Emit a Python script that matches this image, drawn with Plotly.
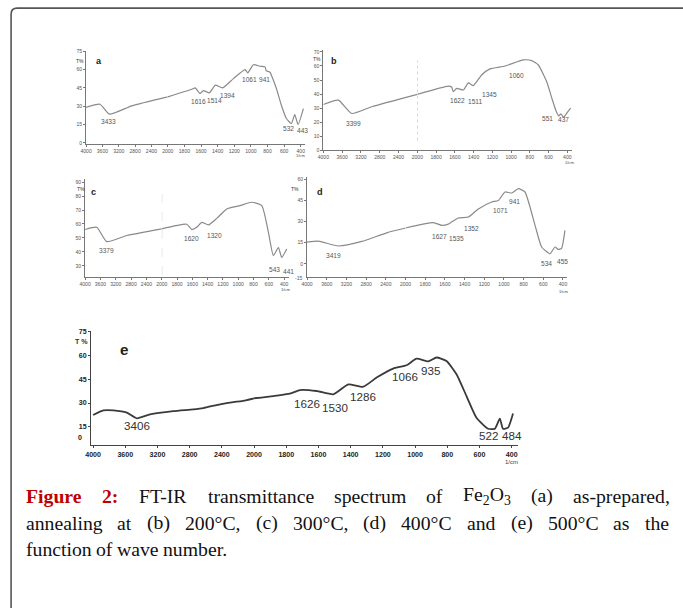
import re
import plotly.graph_objects as go

# Page geometry: the page body keeps a margin and the photographed viewport is slightly
# larger than the final picture, so reference pixels (X, Y) are mapped to page pixels by
# the ratios KX / KY and then shifted.
W, H = 683, 608
MARGIN = 8
KX = 683 / 691
KY = 608 / 616
DY = 3
FS = 1 / KX  # font scale so that text keeps its size in the final picture

# ---------------- data (wavenumber in 1/cm, transmittance T%) ----------------
wn_a = [4000, 3660, 3430, 2880, 2000, 1710, 1670, 1612, 1570, 1500, 1427, 1340, 1210, 1070, 1037, 970, 890, 830, 815, 773, 693, 633, 573, 512, 472, 432, 368]
t_a = [29, 31.6, 23.5, 30.3, 37.6, 43.9, 45, 40.4, 42.8, 40.9, 47.2, 45, 52.6, 60, 57.3, 64, 62.7, 62.2, 59, 58, 44.5, 30.8, 19.9, 15.8, 23.2, 15, 28]

wn_b = [4000, 3680, 3397, 2970, 2000, 1669, 1634, 1616, 1580, 1509, 1456, 1403, 1314, 1225, 1065, 869, 780, 709, 620, 560, 520, 490, 470, 440, 400, 365]
t_b = [32.6, 35.7, 26.2, 31, 39.8, 45.7, 45, 41.7, 44, 42.9, 48, 46, 53.6, 57.9, 60, 64.3, 63.8, 60.7, 48.8, 36, 28, 24.5, 26, 23.5, 27, 30]

wn_c = [4000, 3696, 3435, 2913, 2000, 1673, 1608, 1542, 1477, 1390, 1281, 1150, 976, 823, 692, 605, 540, 474, 431, 365]
t_c = [56, 57.6, 47.3, 51.7, 56.5, 59.8, 56, 57.6, 61.2, 59.3, 64, 70.8, 73.2, 75.6, 73.2, 54, 37.3, 43, 36, 42]

wn_d = [4000, 3771, 3364, 2889, 2382, 2000, 1718, 1632, 1565, 1464, 1362, 1260, 1124, 1057, 989, 921, 854, 786, 684, 617, 532, 481, 448, 414, 380]
t_d = [15.4, 16.1, 12.6, 15.9, 22, 25.4, 29.2, 27.3, 28.2, 32.5, 33.2, 39, 43.9, 45, 51, 50.3, 53.4, 51, 27.3, 11.9, 7.1, 11.9, 10.2, 11, 23.7]

wn_e = [4000, 3872, 3748, 3581, 3457, 3292, 3003, 2754, 2630, 2422, 2257, 2153, 2000, 1880, 1777, 1715, 1611, 1508, 1415, 1322, 1239, 1136, 1053, 991, 919, 867, 805, 743, 681, 619, 547, 505, 474, 454, 423, 392]
t_e = [22.4, 25.3, 25.3, 23.9, 20.3, 22.8, 24.9, 26, 26.8, 29.2, 30.6, 31.2, 33, 34.4, 35.9, 38.2, 37.6, 35.5, 41.8, 40.3, 46.1, 51.8, 53.9, 58.1, 56.4, 58.8, 56.6, 48.2, 34.4, 20.7, 13.7, 13.7, 20.1, 13.7, 14.4, 23.4]

peaks_a = ["3433", "1616", "1514", "1394", "1061", "941", "532", "443"]
peaks_b = ["3399", "1622", "1511", "1345", "1060", "551", "437"]
peaks_c = ["3379", "1620", "1320", "543", "441"]
peaks_d = ["3419", "1627", "1535", "1352", "1071", "941", "534", "455"]
peaks_e = ["3406", "1626", "1530", "1286", "1066", "935", "522", "484"]

ticks_left = [4000, 3600, 3200, 2800, 2400]
ticks_right = [2000, 1800, 1600, 1400, 1200, 1000, 800, 600, 400]
yticks_a = [0, 15, 30, 45, 60, 75]
yticks_b = [0, 10, 20, 30, 40, 50, 60, 70]
yticks_c = [20, 30, 40, 50, 60, 70, 80, 90]
yticks_d = [0, 15, 30, 45, 60]
yticks_e = [15, 30, 45, 60, 75]

RED = "#c00000"
caption_words = [
    [f"<span style='color:{RED}'><b>Figure</b></span>", f"<span style='color:{RED}'><b>2:</b></span>",
     "FT-IR", "transmittance", "spectrum", "of", "Fe<sub>2</sub>O<sub>3</sub>", "(a)", "as-prepared,"],
    ["annealing", "at", "(b)", "200°C,", "(c)", "300°C,", "(d)", "400°C", "and", "(e)", "500°C", "as", "the"],
    ["function", "of", "wave", "number."],
]

# ---------------- layout helpers ----------------
def ppx(xp):            # page pixel -> paper fraction
    return (xp - MARGIN) / W

def ppy(yp):
    return 1 - (yp - MARGIN) / H

def px(x):              # reference pixel -> paper fraction
    return ppx(x / KX)

def py(y):
    return ppy((y + DY) / KY)

TW = {' ': 250, 'a': 444, 'b': 500, 'c': 444, 'd': 500, 'e': 444, 'f': 333, 'g': 500, 'h': 500,
      'i': 278, 'k': 500, 'l': 278, 'm': 778, 'n': 500, 'o': 500, 'p': 500, 'r': 333, 's': 389,
      't': 278, 'u': 500, 'v': 500, 'w': 722, 'F': 556, 'T': 611, 'I': 333, 'R': 667, 'O': 722,
      'C': 667, '-': 333, '(': 333, ')': 333, ',': 250, '.': 250, ':': 278, '°': 400}
TWB = {'F': 611, 'i': 278, 'g': 500, 'u': 556, 'r': 444, 'e': 444, ':': 333}

def text_width(markup, size):
    w = 0.0
    bold = False
    sub = False
    for tok in re.split(r"(<[^>]+>)", markup):
        if tok.startswith("<"):
            t = tok.lower()
            if t == "<b>":
                bold = True
            elif t == "</b>":
                bold = False
            elif t == "<sub>":
                sub = True
            elif t == "</sub>":
                sub = False
            continue
        for ch in tok:
            base = 500 if ch.isdigit() else (TWB.get(ch, TW.get(ch, 500)) if bold else TW.get(ch, 500))
            w += base * (0.7 if sub else 1.0)
    return w * size / 1000.0

panels = [
    dict(name="a", wn=wn_a, t=t_a, peaks=peaks_a, x0=86, xm=167.7, x1=305, yt=53, yb=145,
         lr=4000, re=348, yr=[-0.6, 75], yt_vals=yticks_a,
         ppos=[(108, 123), (198.5, 103), (214.5, 102), (227, 97.5), (249.5, 81.5), (264, 81.5), (288.5, 130), (302.5, 131.5)],
         lab=(99, 63), tpct=(80, 63), cm=(300.7, 157)),
    dict(name="b", wn=wn_b, t=t_b, peaks=peaks_b, x0=323.3, xm=417.3, x1=572, yt=51.7, yb=151.7,
         lr=4000, re=350, yr=[0, 71.4], yt_vals=yticks_b,
         ppos=[(353, 125), (457.5, 102.5), (475, 103), (489, 96.5), (516.5, 77.5), (547, 120), (563, 121)],
         lab=(334, 63), tpct=(316.5, 60.5), cm=(569, 164)),
    dict(name="c", wn=wn_c, t=t_c, peaks=peaks_c, x0=85, xm=161.7, x1=289, yt=180.5, yb=278.3,
         lr=4000, re=335, yr=[21.7, 92.2], yt_vals=yticks_c,
         ppos=[(106.5, 251.5), (191, 240), (214, 236.5), (274, 270.5), (288, 272.5)],
         lab=(93, 193), tpct=(80.5, 190.5), cm=(285, 290)),
    dict(name="d", wn=wn_d, t=t_d, peaks=peaks_d, x0=307, xm=405.5, x1=567, yt=178.3, yb=278,
         lr=4000, re=359, yr=[-9.4, 61.7], yt_vals=yticks_d,
         ppos=[(333, 256.5), (439, 238), (456.5, 240), (471.5, 230), (500, 211.5), (514, 203), (546.5, 265), (562.5, 262.5)],
         lab=(320, 193), tpct=(295, 190), cm=(563, 292)),
    dict(name="e", wn=wn_e, t=t_e, peaks=peaks_e, x0=91, xm=254, x1=518, yt=332, yb=446,
         lr=4025, re=361, yr=[3.1, 75.5], yt_vals=yticks_e,
         ppos=[(136.5, 426.5), (307, 404), (335, 408), (363, 397.5), (405, 377), (430, 371), (488, 436), (512, 436)],
         lab=(124, 350), tpct=(81.5, 343), cm=(511.7, 462)),
]

fig = go.Figure()
annotations = []
shapes = []

LBL = "Arial, Liberation Sans, sans-serif"

for i, p in enumerate(panels):
    big = p["name"] == "e"
    xl = 2 * i + 1
    xr = 2 * i + 2
    yi = i + 1
    xl_name = "x" if xl == 1 else f"x{xl}"
    xr_name = f"x{xr}"
    y_name = "y" if yi == 1 else f"y{yi}"
    line_col = "#3a3a3a" if big else "#8a8a8a"
    line_w = 1.8 if big else 1.2
    left_w = [w for w in p["wn"] if w >= 2000]
    left_t = [t for w, t in zip(p["wn"], p["t"]) if w >= 2000]
    right_w = [w for w in p["wn"] if w <= 2000]
    right_t = [t for w, t in zip(p["wn"], p["t"]) if w <= 2000]
    for xs, ys, xa in [(left_w, left_t, xl_name), (right_w, right_t, xr_name)]:
        fig.add_trace(go.Scatter(x=xs, y=ys, mode="lines", xaxis=xa, yaxis=y_name,
                                 line=dict(color=line_col, width=line_w, shape="spline", smoothing=0.5),
                                 showlegend=False, hoverinfo="skip"))

    tick_font = dict(family="Arial", size=(7 if big else 5) * FS, color="#222" if big else "#555",
                     weight="bold" if big else "normal")
    axis_col = "#444" if big else "#777"
    common_x = dict(showgrid=False, zeroline=False, showline=True, linecolor=axis_col, linewidth=1,
                    ticks="outside", ticklen=2, tickcolor=axis_col, tickfont=tick_font, anchor=y_name)
    lkey = "xaxis" if xl == 1 else f"xaxis{xl}"
    rkey = f"xaxis{xr}"
    ykey = "yaxis" if yi == 1 else f"yaxis{yi}"
    fig.update_layout(**{
        lkey: dict(domain=[px(p["x0"]), px(p["xm"])], range=[p["lr"], 2000], tickmode="array",
                   tickvals=ticks_left, **common_x),
        rkey: dict(domain=[px(p["xm"]), px(p["x1"])], range=[2000, p["re"]], tickmode="array",
                   tickvals=ticks_right, **common_x),
        ykey: dict(domain=[py(p["yb"]), py(p["yt"])], range=p["yr"], anchor=xl_name,
                   tickmode="array", tickvals=p["yt_vals"], showgrid=False, zeroline=False,
                   showline=True, linecolor=axis_col, linewidth=1, ticks="outside", ticklen=2,
                   tickcolor=axis_col, tickfont=tick_font),
    })

    for txt, (lx, ly) in zip(p["peaks"], p["ppos"]):
        annotations.append(dict(x=px(lx), y=py(ly), xref="paper", yref="paper", text=txt,
                                showarrow=False, xanchor="center", yanchor="middle",
                                font=dict(family=LBL, size=(11.5 if big else 6.5) * FS,
                                          color="#333" if big else "#555")))
    annotations.append(dict(x=px(p["lab"][0]), y=py(p["lab"][1]), xref="paper", yref="paper",
                            text=f"<b>{p['name']}</b>", showarrow=False, xanchor="center", yanchor="middle",
                            font=dict(family="Arial", size=(15 if big else 9) * FS, color="#222")))
    annotations.append(dict(x=px(p["tpct"][0]), y=py(p["tpct"][1]), xref="paper", yref="paper",
                            text="<b>T %</b>" if big else "T%", showarrow=False, xanchor="center",
                            yanchor="middle", font=dict(family="Arial", size=(7 if big else 5) * FS, color="#333")))
    annotations.append(dict(x=px(p["cm"][0]), y=py(p["cm"][1]), xref="paper", yref="paper",
                            text="1/cm", showarrow=False, xanchor="center", yanchor="middle",
                            font=dict(family="Arial", size=(6 if big else 4) * FS, color="#444")))

annotations.append(dict(x=px(84), y=py(439), xref="paper", yref="paper", text="<b>0</b>", showarrow=False,
                        xanchor="right", yanchor="middle", font=dict(family="Arial", size=7 * FS, color="#222")))
annotations.append(dict(x=px(304), y=py(279), xref="paper", yref="paper", text="-15", showarrow=False,
                        xanchor="right", yanchor="middle", font=dict(family="Arial", size=5 * FS, color="#555")))

shapes.append(dict(type="line", xref="x4", yref="paper", x0=2000, x1=2000, y0=py(142), y1=py(62),
                   line=dict(color="#bbbbbb", width=1, dash="dot")))
shapes.append(dict(type="line", xref="x6", yref="paper", x0=2000, x1=2000, y0=py(276), y1=py(186),
                   line=dict(color="#cccccc", width=1, dash="dash")))

shapes.append(dict(type="path", xref="paper", yref="paper",
                   path=f"M {px(11)},{py(640)} L {px(11)},{py(16)} Q {px(11)},{py(10)} {px(17)},{py(10)} L {px(720)},{py(10)}",
                   line=dict(color="#555555", width=1.6)))

# caption: justified lines built word by word (page pixels), last line set naturally
CAP_SIZE = 19.5 * FS
CAP = dict(family="Liberation Serif, Times New Roman, serif", size=CAP_SIZE, color="#111")
cap_y = [496, 523, 549]
LEFT, RIGHT = 25 / KX, 668 / KX
for k, (words, yy) in enumerate(zip(caption_words, cap_y)):
    widths = [text_width(w, CAP_SIZE) for w in words]
    if k < len(caption_words) - 1:
        gap = (RIGHT - LEFT - sum(widths)) / (len(words) - 1)
    else:
        gap = TW[' '] * CAP_SIZE / 1000.0
    xcur = LEFT
    for w, ww in zip(words, widths):
        annotations.append(dict(x=ppx(xcur), y=py(yy), xref="paper", yref="paper", xanchor="left",
                                yanchor="middle", showarrow=False, font=CAP, text=w, borderpad=0))
        xcur += ww + gap

fig.update_layout(width=W, height=H, margin=dict(l=0, r=0, t=0, b=0),
                  paper_bgcolor="white", plot_bgcolor="white",
                  annotations=annotations, shapes=shapes, showlegend=False)

fig.write_html("out.html")
